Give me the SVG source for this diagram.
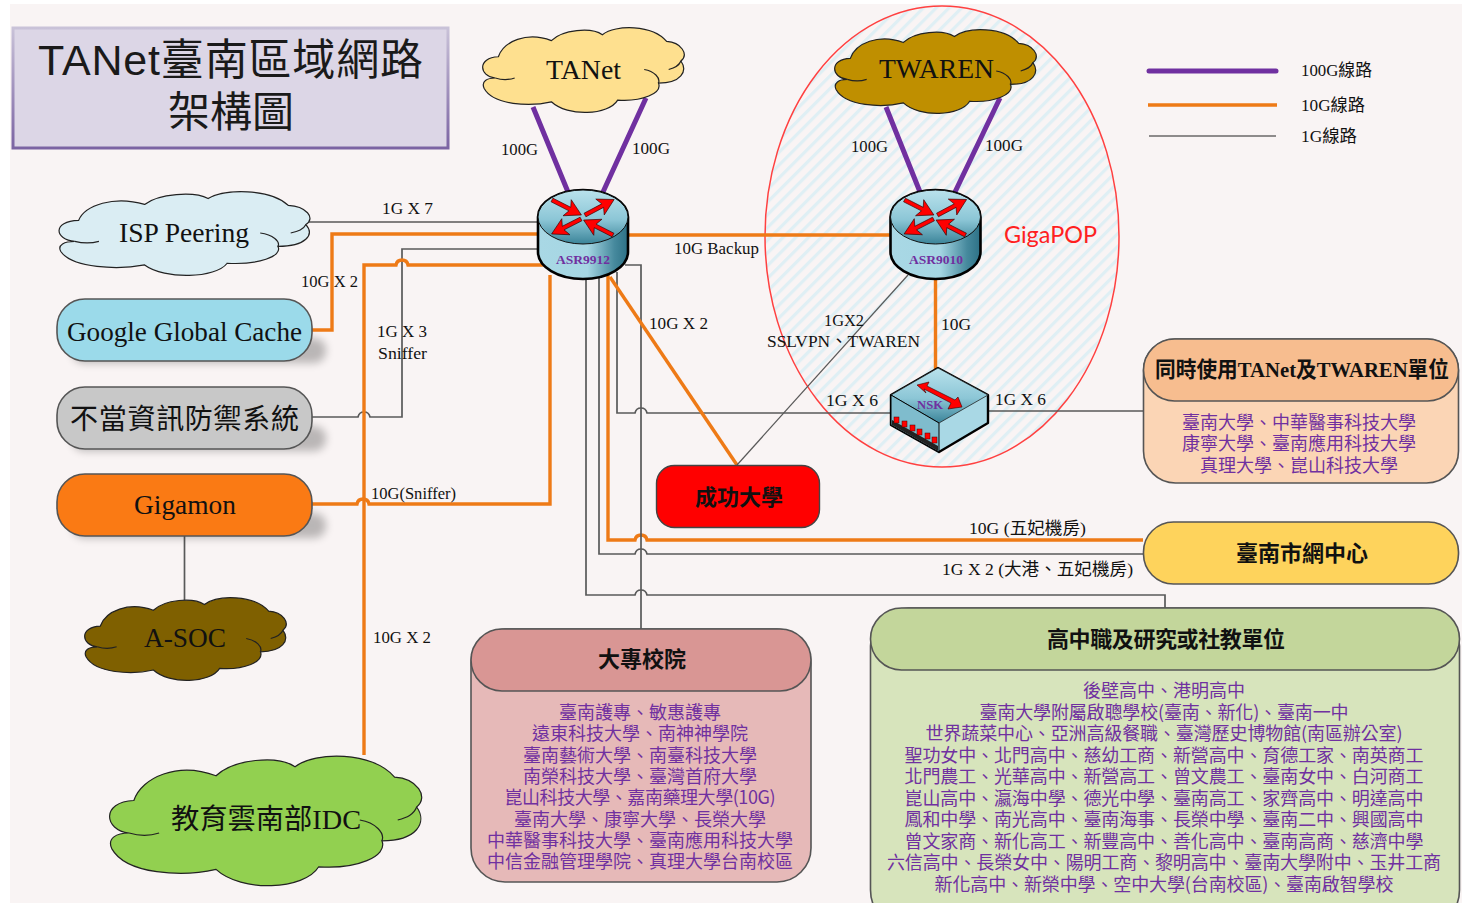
<svg xmlns="http://www.w3.org/2000/svg" width="1469" height="903" viewBox="0 0 1469 903">
<style>
text{font-family:"Liberation Serif","Noto Sans CJK TC",serif;dominant-baseline:central;text-anchor:middle;fill:#111}
.l{font-size:17px}
.n{font-size:28px;transform:translateY(-1px)}
.h{font-size:22px;font-weight:bold;transform:translateY(-1px)}
.b{font-size:18px;fill:#7030a0;font-family:"Noto Sans CJK TC","Liberation Serif",sans-serif;transform:translateY(-1px)}
.r{font-size:13.5px;font-weight:bold;fill:#7030a0}
.g{fill:none;stroke:#595959;stroke-width:1.7}
.o{fill:none;stroke:#ee7a16;stroke-width:3.4}
.p{fill:none;stroke:#7030a0;stroke-width:5}
.nd{stroke:#555;stroke-width:1.6}
#cloud path{vector-effect:non-scaling-stroke;stroke:#222;stroke-width:1.2}
.ar{fill:#f00;stroke:#300;stroke-width:.6}
.sh{fill:#000;opacity:.25}
</style>
<defs>
<pattern id="hatch" width="9" height="9" patternUnits="userSpaceOnUse" patternTransform="rotate(45)"><rect width="9" height="9" fill="#f9f4f4"/><rect width="3.2" height="9" fill="#dfeff4"/></pattern>
<filter id="blur" x="-20%" y="-60%" width="140%" height="220%"><feGaussianBlur stdDeviation="4"/></filter>
<linearGradient id="side" x1="0" x2="1" y1="0" y2="0"><stop offset="0" stop-color="#a9d8e5"/><stop offset=".55" stop-color="#a5d6e3"/><stop offset=".85" stop-color="#46899d"/><stop offset="1" stop-color="#2d7186"/></linearGradient>
<linearGradient id="top" x1="0" x2="0" y1="0" y2="1"><stop offset="0" stop-color="#b9e2ec"/><stop offset=".55" stop-color="#8cc6d6"/><stop offset="1" stop-color="#3b8499"/></linearGradient>
<linearGradient id="title" x1="0" x2="0" y1="0" y2="1"><stop offset="0" stop-color="#c9c2d8"/><stop offset="1" stop-color="#7b64a3"/></linearGradient>
<g id="cloud">
<path d="M17 35C22 17 45 5 69 16C80 3 108 0 119 9C132-3 168-3 182 17C196 18 204 32 196 40C203 52 196 66 174 66C178 78 158 88 134 86C125 104 85 106 69 88C48 94 12 92 3 72C0 64 6 60 14 60C-2 58-4 36 17 35Z"/>
<path fill="none" d="M14 60C22 63 28 62 33 60M196 40C194 46 190 48 184 50M174 66C176 60 170 52 160 50"/>
</g>
<path id="arw" class="ar" d="M0-2L20-2L17-9L33 0L17 9L20 2L0 2Z"/>
<g id="router">
<path d="M-45 0V35A45 27 0 0 0 45 35V0A45 27 0 0 0-45 0Z" fill="url(#side)" stroke="#000" stroke-width="2.6"/>
<ellipse rx="45" ry="27" fill="url(#top)" stroke="#111" stroke-width="1"/>
<use href="#arw" transform="translate(-31,-17) rotate(27)"/>
<use href="#arw" transform="translate(2,-2) rotate(-28)"/>
<use href="#arw" transform="translate(30,18) rotate(207)"/>
<use href="#arw" transform="translate(-2,2) rotate(153)"/>
</g>
</defs>

<rect x="10" y="4" width="1452" height="899" fill="#f9f4f4"/>

<g id="gigapop">
<ellipse cx="942" cy="236.5" rx="177" ry="230.5" fill="url(#hatch)" stroke="#ff4040" stroke-width="1.5"/>
<text x="1050.500" y="233" style="font-family:Lato,'Open Sans',sans-serif;font-size:24px;fill:#ff2020" textLength="93" lengthAdjust="spacingAndGlyphs">GigaPOP</text>
</g>

<g id="connectors">
<path class="p" d="M533 107L568 192M646 98L603 192M886 107L920 192M1000 98L955 192"/>
<path class="g" d="M306 222H538"/>
<path class="o" d="M312 330H332V234H540"/>
<path class="g" d="M312 417H358Q359 412 364 412Q369 412 370 417H402V249H540"/>
<path class="o" d="M364 755V265H396Q397 260 402 260Q407 260 408 265H545"/>
<path class="o" d="M312 504H357Q358 499 363 499Q368 499 369 504H550V275"/>
<path class="g" d="M586 275V595H635Q636 590 641 590Q646 590 647 595H1165V608"/>
<path class="g" d="M599 275V554H635Q636 549 641 549Q646 549 647 554H1143"/>
<path class="o" d="M608 275V540H635Q636 535 641 535Q646 535 647 540H1143"/>
<path class="g" d="M617 272V413H635Q636 408 641 408Q646 408 647 413H892"/>
<path class="g" d="M625 265H641V629"/>
<path class="o" d="M610 277L737 465"/>
<path class="g" d="M737 465L908 275" style="stroke-width:1.2"/>
<path class="o" d="M628 235H892"/>
<path class="o" d="M935.500 278V370"/>
<path class="g" d="M986 411H1143"/>
<path class="g" d="M184.500 536V600"/>
</g>

<g id="title-box">
<rect x="13" y="28" width="435" height="120" fill="#dcd6e6" stroke="url(#title)" stroke-width="3"/>
<text x="230.500" y="60" style="font-size:43px;font-family:'Liberation Sans','Noto Sans CJK TC',sans-serif;fill:#1a1a1a" textLength="385">TANet臺南區域網路</text>
<text x="231" y="108" style="font-size:42px;font-family:'Noto Sans CJK TC',sans-serif;fill:#1a1a1a">架構圖</text>
</g>

<g id="tanet-cloud"><use href="#cloud" fill="#fee08f" transform="translate(481,27) scale(1.02,.85)"/><text x="583.500" y="70" class="n" textLength="75" lengthAdjust="spacingAndGlyphs">TANet</text></g>
<g id="twaren-cloud"><use href="#cloud" fill="#bf8f00" transform="translate(833,29) scale(1.02,.84)"/><text x="936.500" y="69" class="n" textLength="115" lengthAdjust="spacingAndGlyphs">TWAREN</text></g>
<g id="isp-peering"><use href="#cloud" fill="#daedf3" transform="translate(57,191) scale(1.27,.84)"/><text x="184" y="233" class="n" textLength="130" lengthAdjust="spacingAndGlyphs">ISP Peering</text></g>
<g id="a-soc"><use href="#cloud" fill="#7f6000" transform="translate(83,597) scale(1.02,.83)"/><text x="185" y="638" class="n" textLength="82" lengthAdjust="spacingAndGlyphs">A-SOC</text></g>
<g id="idc"><use href="#cloud" fill="#92d050" transform="translate(107,755) scale(1.58,1.3)"/><text x="266" y="820" class="n" textLength="190" lengthAdjust="spacingAndGlyphs">教育雲南部IDC</text></g>

<g id="google-cache">
<rect x="72" y="338" width="254" height="25" rx="12" class="sh" filter="url(#blur)"/>
<rect x="57" y="299" width="255" height="62" rx="28" class="nd" fill="#9bdaea"/>
<text x="184.500" y="332" class="n" textLength="235" lengthAdjust="spacingAndGlyphs">Google Global Cache</text>
</g>
<g id="defense">
<rect x="72" y="426" width="254" height="25" rx="12" class="sh" filter="url(#blur)"/>
<rect x="57" y="387" width="255" height="62" rx="28" class="nd" fill="#c8c8c8"/>
<text x="184.500" y="418" class="n" textLength="229" style="font-family:'Noto Sans CJK TC',sans-serif">不當資訊防禦系統</text>
</g>
<g id="gigamon">
<rect x="72" y="513" width="254" height="25" rx="12" class="sh" filter="url(#blur)"/>
<rect x="57" y="474" width="255" height="62" rx="28" class="nd" fill="#fa7a14"/>
<text x="185" y="505" class="n" textLength="102" lengthAdjust="spacingAndGlyphs">Gigamon</text>
</g>

<g id="asr9912"><use href="#router" transform="translate(583,217)"/><text x="583" y="259" class="r" textLength="54" lengthAdjust="spacingAndGlyphs">ASR9912</text></g>
<g id="asr9010"><use href="#router" transform="translate(935.500,217)"/><text x="936" y="259" class="r" textLength="54" lengthAdjust="spacingAndGlyphs">ASR9010</text></g>

<g id="nsk">
<path d="M891 395L938 368L988 395V423L939 452L891 425Z" fill="#a9d8e5" stroke="#000" stroke-width="2.4" stroke-linejoin="round"/>
<path d="M891 395L938 368L988 395L939 423Z" fill="url(#top)" stroke="#222" stroke-width=".8"/>
<path d="M891 395L939 423V452L891 425Z" fill="#7fbccd" stroke="#000" stroke-width="1"/>
<path d="M892 420L938 446V451L892 425Z" fill="#222"/>
<g fill="#f00" stroke="#400" stroke-width=".5"><rect x="894" y="417" width="5" height="6"/><rect x="902" y="421" width="5" height="6"/><rect x="910" y="425" width="5" height="6"/><rect x="917" y="429" width="5" height="6"/><rect x="925" y="433" width="5" height="6"/><rect x="932" y="437" width="5" height="6"/></g>
<path class="ar" d="M917 385L929 382L927 386L955 400L958 397L962 407L948 409L951 403L924 389L926 393Z"/>
<text x="930" y="404" class="r" textLength="26" lengthAdjust="spacingAndGlyphs">NSK</text>
</g>

<g id="ncku"><rect x="656.500" y="465.500" width="163" height="62" rx="18" fill="#f00" stroke="#444" stroke-width="1.4"/><text x="739" y="498" class="h">成功大學</text></g>
<g id="city-net"><rect x="1143.500" y="522" width="315" height="62" rx="30" class="nd" fill="#fed35c"/><text x="1302" y="554" class="h">臺南市網中心</text></g>

<g id="both-units">
<rect x="1143.500" y="339" width="315" height="144" rx="32" class="nd" fill="#fbd5b5"/>
<rect x="1143.500" y="339" width="315" height="62" rx="31" class="nd" fill="#f7bd8f"/>
<text x="1302" y="370" class="h" textLength="294" lengthAdjust="spacingAndGlyphs">同時使用TANet及TWAREN單位</text>
<text x="1299" y="422" class="b">臺南大學、中華醫事科技大學</text>
<text x="1299" y="443" class="b">康寧大學、臺南應用科技大學</text>
<text x="1299" y="465" class="b">真理大學、崑山科技大學</text>
</g>

<g id="colleges">
<rect x="471" y="629" width="340" height="253" rx="34" class="nd" fill="#e6b9b8"/>
<rect x="471" y="629" width="340" height="62" rx="31" class="nd" fill="#d99694"/>
<text x="642" y="660" class="h">大專校院</text>
<text x="640" y="712" class="b">臺南護專、敏惠護專</text>
<text x="640" y="733" class="b">遠東科技大學、南神神學院</text>
<text x="640" y="755" class="b">臺南藝術大學、南臺科技大學</text>
<text x="640" y="776" class="b">南榮科技大學、臺灣首府大學</text>
<text x="640" y="797" class="b" textLength="271">崑山科技大學、嘉南藥理大學(10G)</text>
<text x="640" y="819" class="b">臺南大學、康寧大學、長榮大學</text>
<text x="640" y="840" class="b">中華醫事科技大學、臺南應用科技大學</text>
<text x="640" y="861" class="b">中信金融管理學院、真理大學台南校區</text>
</g>

<g id="high-schools">
<rect x="870.500" y="608" width="589" height="320" rx="38" class="nd" fill="#d7e4bc"/>
<rect x="870.500" y="608" width="589" height="62" rx="31" class="nd" fill="#c3d69b"/>
<text x="1166" y="640" class="h" textLength="238">高中職及研究或社教單位</text>
<text x="1164" y="690" class="b">後壁高中、港明高中</text>
<text x="1164" y="712" class="b" textLength="369">臺南大學附屬啟聰學校(臺南、新化)、臺南一中</text>
<text x="1164" y="733" class="b" textLength="477">世界蔬菜中心、亞洲高級餐職、臺灣歷史博物館(南區辦公室)</text>
<text x="1164" y="755" class="b" textLength="519">聖功女中、北門高中、慈幼工商、新營高中、育德工家、南英商工</text>
<text x="1164" y="776" class="b" textLength="519">北門農工、光華高中、新營高工、曾文農工、臺南女中、白河商工</text>
<text x="1164" y="798" class="b" textLength="519">崑山高中、瀛海中學、德光中學、臺南高工、家齊高中、明達高中</text>
<text x="1164" y="819" class="b" textLength="519">鳳和中學、南光高中、臺南海事、長榮中學、臺南二中、興國高中</text>
<text x="1164" y="841" class="b" textLength="519">曾文家商、新化高工、新豐高中、善化高中、臺南高商、慈濟中學</text>
<text x="1164" y="862" class="b" textLength="554">六信高中、長榮女中、陽明工商、黎明高中、臺南大學附中、玉井工商</text>
<text x="1164" y="884" class="b" textLength="459">新化高中、新榮中學、空中大學(台南校區)、臺南啟智學校</text>
</g>

<g id="labels">
<text class="l" x="519.500" y="149" textLength="37" lengthAdjust="spacingAndGlyphs">100G</text>
<text class="l" x="651" y="148" textLength="38" lengthAdjust="spacingAndGlyphs">100G</text>
<text class="l" x="869.500" y="146" textLength="37" lengthAdjust="spacingAndGlyphs">100G</text>
<text class="l" x="1004" y="145" textLength="38" lengthAdjust="spacingAndGlyphs">100G</text>
<text class="l" x="407.500" y="208" textLength="51" lengthAdjust="spacingAndGlyphs">1G X 7</text>
<text class="l" x="329.500" y="281" textLength="57" lengthAdjust="spacingAndGlyphs">10G X 2</text>
<text class="l" x="402" y="331" textLength="50" lengthAdjust="spacingAndGlyphs">1G X 3</text>
<text class="l" x="402.500" y="353" textLength="49" lengthAdjust="spacingAndGlyphs">Sniffer</text>
<text class="l" x="716.500" y="248" textLength="85" lengthAdjust="spacingAndGlyphs">10G Backup</text>
<text class="l" x="678.500" y="323" textLength="59" lengthAdjust="spacingAndGlyphs">10G X 2</text>
<text class="l" x="844" y="320" textLength="40" lengthAdjust="spacingAndGlyphs">1GX2</text>
<text class="l" x="843.500" y="341" textLength="153" lengthAdjust="spacingAndGlyphs">SSLVPN、TWAREN</text>
<text class="l" x="956" y="324" textLength="30" lengthAdjust="spacingAndGlyphs">10G</text>
<text class="l" x="852" y="400" textLength="52" lengthAdjust="spacingAndGlyphs">1G X 6</text>
<text class="l" x="1020.500" y="399" textLength="51" lengthAdjust="spacingAndGlyphs">1G X 6</text>
<text class="l" x="413.500" y="493" textLength="85" lengthAdjust="spacingAndGlyphs">10G(Sniffer)</text>
<text class="l" x="402" y="637" textLength="58" lengthAdjust="spacingAndGlyphs">10G X 2</text>
<text class="l" x="1027.500" y="528" textLength="117" lengthAdjust="spacingAndGlyphs">10G (五妃機房)</text>
<text class="l" x="1037.500" y="569" textLength="191" lengthAdjust="spacingAndGlyphs">1G X 2 (大港、五妃機房)</text>
</g>

<g id="legend">
<path d="M1149 71H1276" fill="none" stroke="#7030a0" stroke-width="5" stroke-linecap="round"/>
<path d="M1148 105H1277" fill="none" stroke="#ee7a16" stroke-width="3.500"/>
<path d="M1149 136H1276" fill="none" stroke="#222" stroke-width="1"/>
<text class="l" x="1336.500" y="70" textLength="71" lengthAdjust="spacingAndGlyphs">100G線路</text>
<text class="l" x="1333" y="105" textLength="64" lengthAdjust="spacingAndGlyphs">10G線路</text>
<text class="l" x="1329" y="136" textLength="56" lengthAdjust="spacingAndGlyphs">1G線路</text>
</g>
</svg>
